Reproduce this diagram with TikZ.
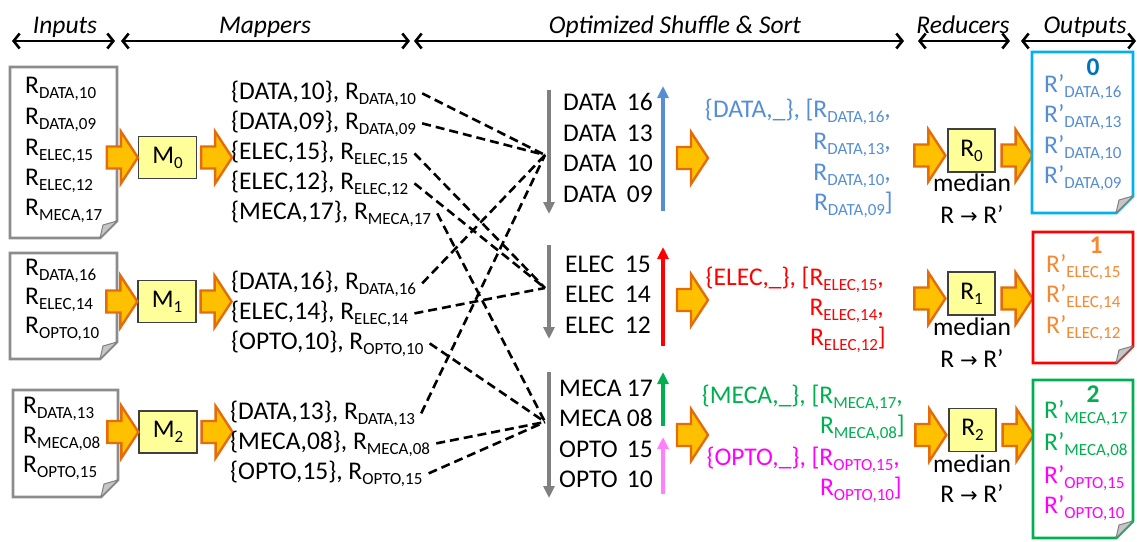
\documentclass[tikz,border=0pt]{standalone}
\usepackage{fontspec}
\setmainfont{Carlito}
\newfontfamily\symfont{DejaVu Sans}
\usetikzlibrary{arrows.meta,calc}
\definecolor{arrfill}{HTML}{FFC000}
\definecolor{arrdraw}{HTML}{E46C0A}
\definecolor{boxfill}{HTML}{FFFF99}
\definecolor{docgray}{HTML}{8C8C8C}
\definecolor{dblue}{HTML}{558ED5}
\definecolor{dcyan}{HTML}{00B0F0}
\definecolor{dnavy}{HTML}{0070C0}
\definecolor{dred}{HTML}{FF0000}
\definecolor{dorange}{HTML}{F7882F}
\definecolor{dgreen}{HTML}{00B050}
\definecolor{dmag}{HTML}{FF00FF}
\definecolor{dpink}{HTML}{FF80FF}
\definecolor{sortgray}{HTML}{808080}
\newcommand\mainfs{\fontsize{25.5}{30}\selectfont}
\newcommand\sbs[1]{\raisebox{-5pt}{\fontsize{17}{17}\selectfont #1}}
\newcommand\Rs[1]{R\sbs{#1}}
\newcommand\Rp[1]{R’\sbs{#1}}
\newcommand\barrow[1]{\draw[blockarr] (#1) ++(0,-11) -- ++(14,0) -- ++(0,-15) -- ++(17,26) -- ++(-17,26) -- ++(0,-15) -- ++(-14,0) -- cycle;}
\newcommand\docshape[5]{%
  \draw[doc, draw=#5] (#1,#2) -- (#3,#2) -- (#3,#4-17) -- (#3-17,#4) -- (#1,#4) -- cycle;
  \draw[fold] (#3,#4-17) -- (#3-17,#4) -- (#3-14,#4-13) -- cycle;}
\tikzset{
  txt/.style={inner sep=0pt, anchor=base west, font=\mainfs},
  rtxt/.style={inner sep=0pt, anchor=base east, font=\mainfs},
  ctxt/.style={inner sep=0pt, anchor=base, font=\mainfs},
  numtxt/.style={inner sep=0pt, anchor=base, font=\mainfs\bfseries},
  hdr/.style={line width=2.6pt, {Straight Barb[length=6pt,width=15pt]}-{Straight Barb[length=6pt,width=15pt]}},
  hdrtxt/.style={anchor=base, inner sep=0pt, font=\mainfs\itshape},
  doc/.style={line width=2.8pt, fill=white, line join=miter},
  fold/.style={fill=gray!45, draw=gray, line width=1pt, line join=round},
  blockarr/.style={fill=arrfill, draw=arrdraw, line width=2.4pt, line join=miter},
  ybox/.style={draw=black!75, fill=boxfill, line width=1.2pt, minimum width=58pt, minimum height=42pt, inner sep=0pt, font=\mainfs},
  shuf/.style={line width=2.6pt, dash pattern=on 9pt off 5pt},
  sortarr/.style={line width=3.5pt, -{Triangle[length=12pt,width=11pt]}},
}
\begin{document}
\begin{tikzpicture}[x=1pt,y=-1pt]
\useasboundingbox (0,0) rectangle (1137,541);

% ---------- header ----------
\draw[hdr] (12,41) -- (115,41);
\draw[hdr] (121,41) -- (410,41);
\draw[hdr] (414,41) -- (904,41);
\draw[hdr] (918,41) -- (1010,41);
\draw[hdr] (1021,41) -- (1136,41);
\node[hdrtxt] (hIn) at (65,33) {Inputs};
\node[hdrtxt] (hMap) at (265,33) {Mappers};
\node[hdrtxt] (hSh) at (675,33) {Optimized Shuffle \& Sort};
\node[hdrtxt] (hRed) at (963,33) {Reducers};
\node[hdrtxt] (hOut) at (1085,33) {Outputs};

% ---------- input documents ----------
\docshape{10}{67}{117}{238}{docgray}
\docshape{10}{253}{117}{359}{docgray}
\docshape{13}{390}{118}{497}{docgray}
\node[txt] (i1a) at (25,93) {\Rs{DATA,10}};
\node[txt] (i1b) at (25,124) {\Rs{DATA,09}};
\node[txt] (i1c) at (25,155) {\Rs{ELEC,15}};
\node[txt] (i1d) at (25,185) {\Rs{ELEC,12}};
\node[txt] (i1e) at (25,215) {\Rs{MECA,17}};
\node[txt] (i2a) at (25,275) {\Rs{DATA,16}};
\node[txt] (i2b) at (25,304) {\Rs{ELEC,14}};
\node[txt] (i2c) at (25,333) {\Rs{OPTO,10}};
\node[txt] (i3a) at (23,413) {\Rs{DATA,13}};
\node[txt] (i3b) at (23,443) {\Rs{MECA,08}};
\node[txt] (i3c) at (23,472) {\Rs{OPTO,15}};

% ---------- mappers ----------
\node[ybox] (M0) at (167.5,157.5) {M\sbs{0}};
\node[ybox] (M1) at (167,301.5) {M\sbs{1}};
\node[ybox] (M2) at (168,432) {M\sbs{2}};
\barrow{$(M0.west)+(-31,0)$}
\barrow{$(M0.east)+(4,0)$}
\barrow{$(M1.west)+(-31,0)$}
\barrow{$(M1.east)+(4,0)$}
\barrow{$(M2.west)+(-31,0)$}
\barrow{$(M2.east)+(4,0)$}

\node[txt] (m1) at (231,99) {\{DATA,10\}, \Rs{DATA,10}};
\node[txt] (m2) at (231,129) {\{DATA,09\}, \Rs{DATA,09}};
\node[txt] (m3) at (231,159) {\{ELEC,15\}, \Rs{ELEC,15}};
\node[txt] (m4) at (231,189) {\{ELEC,12\}, \Rs{ELEC,12}};
\node[txt] (m5) at (231,219) {\{MECA,17\}, \Rs{MECA,17}};
\node[txt] (m6) at (231,289) {\{DATA,16\}, \Rs{DATA,16}};
\node[txt] (m7) at (231,319) {\{ELEC,14\}, \Rs{ELEC,14}};
\node[txt] (m8) at (231,349) {\{OPTO,10\}, \Rs{OPTO,10}};
\node[txt] (m9) at (230,419) {\{DATA,13\}, \Rs{DATA,13}};
\node[txt] (m10) at (230,449) {\{MECA,08\}, \Rs{MECA,08}};
\node[txt] (m11) at (230,479) {\{OPTO,15\}, \Rs{OPTO,15}};

% ---------- shuffle ----------
\coordinate (cD) at (545,155);
\coordinate (cE) at (545,288);
\coordinate (cM) at (545,422);
\draw[shuf] ([xshift=6pt]m1.east) -- (cD);
\draw[shuf] ([xshift=6pt]m2.east) -- (cD);
\draw[shuf] ([xshift=6pt]m6.east) -- (cD);
\draw[shuf] ([xshift=6pt]m9.east) -- (cD);
\draw[shuf] ([xshift=6pt]m3.east) -- (cE);
\draw[shuf] ([xshift=6pt]m4.east) -- (cE);
\draw[shuf] ([xshift=6pt]m7.east) -- (cE);
\draw[shuf] ([xshift=6pt]m5.east) -- (cM);
\draw[shuf] ([xshift=6pt]m8.east) -- (cM);
\draw[shuf] ([xshift=6pt]m10.east) -- (cM);
\draw[shuf] ([xshift=6pt]m11.east) -- (cM);

% sort arrows
\draw[sortarr, sortgray] (549,90) -- (549,214);
\draw[sortarr, sortgray] (549,245) -- (549,339);
\draw[sortarr, sortgray] (549,372) -- (549,498);
\draw[sortarr, dblue] (663,211) -- (663,86);
\draw[sortarr, dred] (663,346) -- (663,247);
\draw[sortarr, dgreen] (663,426) -- (663,372);
\draw[sortarr, dpink] (663,494) -- (663,437);

% sorted lists
\node[txt] (s1) at (563,110) {DATA};  \node[rtxt] (n1) at (653,110) {16};
\node[txt] (s2) at (563,141) {DATA};  \node[rtxt] (n2) at (653,141) {13};
\node[txt] (s3) at (563,171) {DATA};  \node[rtxt] (n3) at (653,171) {10};
\node[txt] (s4) at (563,202) {DATA};  \node[rtxt] (n4) at (653,202) {09};
\node[txt] (s5) at (565,272) {ELEC};  \node[rtxt] (n5) at (651,272) {15};
\node[txt] (s6) at (565,302) {ELEC};  \node[rtxt] (n6) at (651,302) {14};
\node[txt] (s7) at (565,333) {ELEC};  \node[rtxt] (n7) at (651,333) {12};
\node[txt] (s8) at (559,396) {MECA};  \node[rtxt] (n8) at (653,396) {17};
\node[txt] (s9) at (559,426) {MECA};  \node[rtxt] (n9) at (653,426) {08};
\node[txt] (s10) at (559,457) {OPTO}; \node[rtxt] (n10) at (653,457) {15};
\node[txt] (s11) at (559,487) {OPTO}; \node[rtxt] (n11) at (653,487) {10};

\barrow{677,158}
\barrow{677,300}
\barrow{677,435}

% grouped values
\node[rtxt, text=dblue] (g1) at (891,117) {\{DATA,\_\}, [\Rs{DATA,16},};
\node[rtxt, text=dblue] (g2) at (891,149) {\Rs{DATA,13},};
\node[rtxt, text=dblue] (g3) at (891,180) {\Rs{DATA,10},};
\node[rtxt, text=dblue] (g4) at (893,210) {\Rs{DATA,09}]};
\node[rtxt, text=dred] (g5) at (884,285) {\{ELEC,\_\}, [\Rs{ELEC,15},};
\node[rtxt, text=dred] (g6) at (884,315) {\Rs{ELEC,14},};
\node[rtxt, text=dred] (g7) at (886,345) {\Rs{ELEC,12}]};
\node[rtxt, text=dgreen] (g8) at (903,403) {\{MECA,\_\}, [\Rs{MECA,17},};
\node[rtxt, text=dgreen] (g9) at (905,433) {\Rs{MECA,08}]};
\node[rtxt, text=dmag] (g10) at (900,465) {\{OPTO,\_\}, [\Rs{OPTO,15},};
\node[rtxt, text=dmag] (g11) at (902,495) {\Rs{OPTO,10}]};

% ---------- reducers ----------
\node[ybox, minimum width=47pt, minimum height=43pt] (R0) at (971.5,150.5) {R\sbs{0}};
\node[ybox, minimum width=47pt, minimum height=43pt] (R1) at (971.5,293.5) {R\sbs{1}};
\node[ybox, minimum width=47pt, minimum height=43pt] (R2) at (972.5,430) {R\sbs{2}};
\barrow{$(R0.west)+(-33,5)$}
\barrow{$(R0.east)+(6,5)$}
\barrow{$(R1.west)+(-33,5)$}
\barrow{$(R1.east)+(6,5)$}
\barrow{$(R2.west)+(-33,5)$}
\barrow{$(R2.east)+(6,5)$}
\node[ctxt] (md0) at (972,191) {median};
\node[ctxt] (rr0) at (972,223) {R {\symfont\fontsize{21}{21}\selectfont →} R’};
\node[ctxt] (md1) at (972,335) {median};
\node[ctxt] (rr1) at (972,367) {R {\symfont\fontsize{21}{21}\selectfont →} R’};
\node[ctxt] (md2) at (972,472) {median};
\node[ctxt] (rr2) at (972,502) {R {\symfont\fontsize{21}{21}\selectfont →} R’};

% ---------- outputs ----------
\docshape{1032}{52}{1133}{213}{dcyan}
\docshape{1033}{232}{1133}{363}{dred}
\docshape{1033}{380}{1133}{538}{dgreen}
\node[numtxt, text=dnavy] (o0) at (1093,75) {0};
\node[txt, text=dblue] (o0a) at (1044,92) {\Rp{DATA,16}};
\node[txt, text=dblue] (o0b) at (1044,122) {\Rp{DATA,13}};
\node[txt, text=dblue] (o0c) at (1044,153) {\Rp{DATA,10}};
\node[txt, text=dblue] (o0d) at (1044,183) {\Rp{DATA,09}};
\node[numtxt, text=dorange] (o1) at (1096,253) {1};
\node[txt, text=dorange] (o1a) at (1046,272) {\Rp{ELEC,15}};
\node[txt, text=dorange] (o1b) at (1046,302) {\Rp{ELEC,14}};
\node[txt, text=dorange] (o1c) at (1046,333) {\Rp{ELEC,12}};
\node[numtxt, text=dgreen] (o2) at (1093,402) {2};
\node[txt, text=dgreen] (o2a) at (1044,418) {\Rp{MECA,17}};
\node[txt, text=dgreen] (o2b) at (1044,450) {\Rp{MECA,08}};
\node[txt, text=dmag] (o2c) at (1044,483) {\Rp{OPTO,15}};
\node[txt, text=dmag] (o2d) at (1044,513) {\Rp{OPTO,10}};
\end{tikzpicture}
\end{document}
